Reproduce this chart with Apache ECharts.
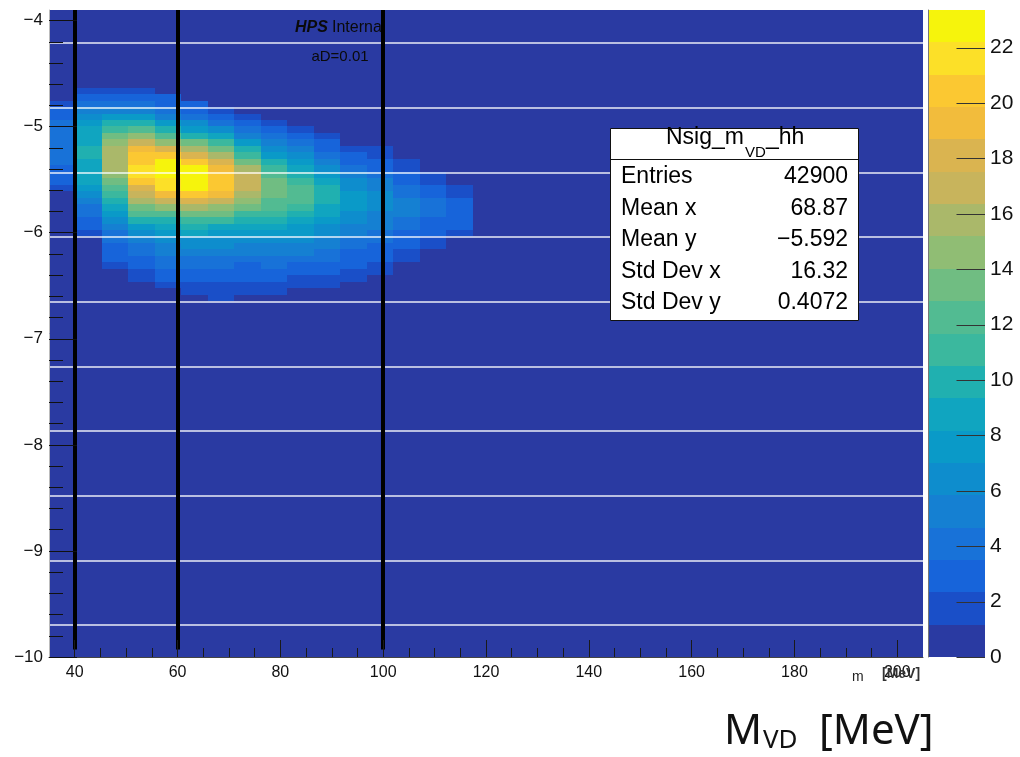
<!DOCTYPE html>
<html>
<head>
<meta charset="utf-8">
<script src="https://cdn.jsdelivr.net/npm/echarts@6/dist/echarts.min.js"></script>
<style>
  html, body { margin: 0; padding: 0; background: #fff; }
  #chart { width: 1020px; height: 757px; }
</style>
</head>
<body>
<div id="chart"></div>
<script>
// histogram binning
var xRange = [35, 205];
var xBinCount = 33;
var yRange = [-10, -3.9];
var yBinCount = 100;

// z contents per x bin (bin 0 .. 15), listed from the top y bin downwards
var colTopBin = [85, 87, 87, 87, 86, 85, 84, 83, 82, 81, 80, 78, 78, 76, 74, 72];
var zByColumn = [
  [2.0, 2.6, 3.2, 3.7, 4.1, 4.4, 4.6, 4.5, 4.2, 3.8, 3.4, 3.0, 2.6, 2.0],
  [2.0, 2.9, 4.0, 5.3, 6.5, 7.6, 8.4, 8.9, 9.2, 9.4, 9.4, 9.3, 9.1, 8.8, 8.4, 7.8, 6.2, 5.0, 4.4, 3.8, 3.3, 2.8, 2.3],
  [2.0, 3.0, 4.2, 5.6, 7.5, 9.5, 11.3, 13.0, 14.6, 15.6, 16.0, 15.8, 15.2, 14.2, 13.2, 12.0, 10.8, 9.6, 8.4, 7.2, 6.0, 5.0, 4.3, 3.8, 3.2, 2.8, 2.4, 1.9],
  [1.5, 2.5, 3.8, 5.5, 7.8, 10.0, 12.0, 14.2, 16.5, 18.8, 20.0, 21.0, 21.6, 21.4, 20.5, 18.5, 16.5, 15.2, 13.2, 11.8, 9.8, 7.5, 6.3, 5.2, 4.5, 3.7, 3.2, 2.8, 2.0, 1.6],
  [2.5, 3.2, 4.3, 5.5, 7.5, 9.8, 12.2, 14.8, 18.0, 20.5, 22.6, 23.2, 22.9, 21.8, 21.5, 19.2, 16.8, 14.5, 12.3, 10.0, 8.6, 7.4, 6.3, 5.4, 4.8, 4.0, 3.6, 3.0, 2.4, 1.8],
  [2.4, 3.3, 4.2, 6.0, 8.0, 10.5, 13.0, 15.8, 18.5, 20.8, 22.4, 23.3, 23.0, 22.2, 20.5, 18.2, 16.0, 13.8, 11.5, 9.6, 8.2, 7.0, 6.0, 5.2, 4.5, 3.8, 3.2, 2.6, 2.1, 1.6],
  [2.3, 3.2, 4.6, 6.3, 8.5, 10.8, 13.2, 15.5, 17.6, 19.2, 20.3, 20.6, 20.2, 19.0, 17.2, 15.0, 13.0, 11.0, 9.3, 8.0, 6.9, 6.0, 5.2, 4.5, 3.9, 3.3, 2.8, 2.3, 1.9, 1.5],
  [2.2, 3.0, 4.2, 5.8, 7.6, 9.5, 11.5, 13.5, 15.3, 16.6, 17.1, 16.9, 16.0, 14.6, 13.0, 11.4, 9.8, 8.5, 7.4, 6.4, 5.6, 4.8, 4.1, 3.5, 3.0, 2.5, 2.1, 1.6],
  [2.0, 2.9, 3.9, 5.2, 6.6, 8.0, 9.5, 11.0, 12.5, 13.4, 13.8, 13.5, 12.8, 11.8, 10.6, 9.4, 8.3, 7.3, 6.4, 5.6, 4.9, 4.2, 3.6, 3.1, 2.6, 2.1, 1.5],
  [2.0, 2.8, 3.8, 4.9, 6.1, 7.4, 8.7, 10.0, 11.1, 11.8, 12.0, 11.7, 11.0, 10.1, 9.1, 8.1, 7.2, 6.3, 5.5, 4.8, 4.1, 3.5, 2.9, 2.3, 1.7],
  [1.9, 2.6, 3.4, 4.4, 5.5, 6.6, 7.7, 8.7, 9.5, 9.9, 9.8, 9.3, 8.6, 7.8, 7.0, 6.2, 5.5, 4.8, 4.2, 3.6, 3.0, 2.5, 2.0, 1.5],
  [2.0, 2.7, 3.5, 4.4, 5.3, 6.2, 6.9, 7.4, 7.6, 7.4, 7.0, 6.4, 5.8, 5.2, 4.6, 4.0, 3.5, 3.0, 2.6, 2.2, 1.7],
  [1.7, 2.2, 2.8, 3.5, 4.2, 4.9, 5.5, 5.9, 6.1, 6.0, 5.7, 5.2, 4.7, 4.2, 3.7, 3.2, 2.8, 2.4, 2.0, 1.6],
  [1.6, 2.0, 2.6, 3.2, 3.8, 4.3, 4.7, 4.9, 4.8, 4.5, 4.0, 3.5, 3.0, 2.6, 2.1, 1.7],
  [1.7, 2.2, 2.8, 3.3, 3.7, 3.9, 3.8, 3.4, 2.9, 2.4, 2.0, 1.6],
  [1.7, 2.2, 2.6, 2.9, 3.0, 2.8, 2.4, 1.8]
];

// z axis (palette) : 20 contours up to zMax
var zMax = 23.36;
var palette = ['#2a3aa2', '#1a4fc8', '#1764da', '#1872d8', '#1580d2', '#0e8dcd', '#0a9ac8', '#10a5c0',
  '#20b0b0', '#3bb89e', '#52bb92', '#70bd82', '#90bd74', '#aab86a', '#c8b45c', '#dab450',
  '#f2bc3c', '#fbc832', '#fce028', '#f6f40c'];
var zTicks = [0, 2, 4, 6, 8, 10, 12, 14, 16, 18, 20, 22];

var xMajorTicks = [40, 60, 80, 100, 120, 140, 160, 180, 200];
var yMajorTicks = [-10, -9, -8, -7, -6, -5, -4];

// overlay lines
var cutMasses = [40, 60, 100];
var cutLineY = [-9.93, -3.9];
var whiteLinesY = [-4.21, -4.82, -5.43, -6.04, -6.65, -7.26, -7.87, -8.48, -9.09, -9.70];

// stats box
var statsTitle = ['Nsig_m', 'VD', '_hh'];
var statsNames = ['Entries', 'Mean x', 'Mean y', 'Std Dev x', 'Std Dev y'];
var statsValues = ['42900', '68.87', '\u22125.592', '16.32', '0.4072'];

var xBinW = (xRange[1] - xRange[0]) / xBinCount;
var yBinW = (yRange[1] - yRange[0]) / yBinCount;

var heatData = [];
zByColumn.forEach(function (col, i) {
  col.forEach(function (z, j) {
    var row = colTopBin[i] - j;
    heatData.push([xRange[0] + i * xBinW, yRange[0] + row * yBinW, z]);
  });
});

var zStep = zMax / palette.length;
var pieces = [];
var bandData = [];
palette.forEach(function (c, i) {
  pieces.push({ gte: i * zStep, lt: (i + 1) * zStep, color: c });
  bandData.push([i * zStep, (i + 1) * zStep, i]);
});

var xMinorTicks = [];
for (var t = 40; t <= 200; t += 5) if (t % 20 !== 0) xMinorTicks.push(t);
var yMinorTicks = [];
for (var k = -49; k <= -20; k++) if (k % 5 !== 0) yMinorTicks.push(k / 5);

var FONT = "'Liberation Sans', Arial, Helvetica, sans-serif";
function minus(v) { return v < 0 ? '\u2212' + Math.abs(v) : String(v); }

var chart = echarts.init(document.getElementById('chart'));

var graphics = [
  { type: 'text', x: 295, y: 28, z: 1, style: { text: 'HPS', font: "italic bold 16px " + FONT, fill: '#0a0a0a', verticalAlign: 'middle' } },
  { type: 'text', x: 332, y: 28, z: 1, style: { text: 'Internal', font: "16px " + FONT, fill: '#0a0a0a', verticalAlign: 'middle' } },
  { type: 'text', x: 340, y: 57, z: 1, style: { text: 'aD=0.01', font: "15px " + FONT, fill: '#0a0a0a', align: 'center', verticalAlign: 'middle' } },
  { type: 'rect', z: 100, shape: { x: 610.5, y: 128.5, width: 248, height: 192 }, style: { fill: '#fff', stroke: '#111', lineWidth: 1 } },
  { type: 'line', z: 101, shape: { x1: 610.5, y1: 159.5, x2: 858.5, y2: 159.5 }, style: { stroke: '#111', lineWidth: 1 } },
  { type: 'text', x: 666, y: 138, z: 102, style: { text: statsTitle[0], font: "23px " + FONT, fill: '#000', verticalAlign: 'middle' } },
  { type: 'text', x: 745, y: 153, z: 102, style: { text: statsTitle[1], font: "15px " + FONT, fill: '#000', verticalAlign: 'middle' } },
  { type: 'text', x: 766, y: 138, z: 102, style: { text: statsTitle[2], font: "23px " + FONT, fill: '#000', verticalAlign: 'middle' } },
  // small ROOT axis title, cut at the bottom edge of the original picture
  { type: 'text', x: 852, y: 670, z: 40, style: { text: 'm', font: "14px " + FONT, fill: '#222', verticalAlign: 'top' } },
  { type: 'text', x: 882, y: 667, z: 40, style: { text: '[MeV]', font: "bold 14px " + FONT, fill: '#333', verticalAlign: 'top' } },
  { type: 'rect', z: 50, shape: { x: 840, y: 681, width: 90, height: 20 }, style: { fill: '#fff' } },
  // big axis label
  { type: 'text', x: 724, y: 732, z: 60, style: { text: 'M', font: "42px 'Noto Sans', sans-serif", fill: '#111', verticalAlign: 'middle' } },
  { type: 'text', x: 763, y: 741, z: 60, style: { text: 'VD', font: "26px 'Noto Sans', sans-serif", fill: '#111', verticalAlign: 'middle' } },
  { type: 'text', x: 819, y: 732, z: 60, style: { text: '[MeV]', font: "42px 'Noto Sans', sans-serif", fill: '#111', verticalAlign: 'middle' } }
];
statsNames.forEach(function (n, i) {
  var y = 177 + i * 31.5;
  graphics.push({ type: 'text', x: 621, y: y, z: 102, style: { text: n, font: "23px " + FONT, fill: '#000', verticalAlign: 'middle' } });
  graphics.push({ type: 'text', x: 848, y: y, z: 102, style: { text: statsValues[i], font: "23px " + FONT, fill: '#000', align: 'right', verticalAlign: 'middle' } });
});

var option = {
  animation: false,
  backgroundColor: '#ffffff',
  grid: [
    { left: 49, top: 10, width: 874, height: 647, show: true, backgroundColor: palette[0], borderWidth: 0 },
    { left: 928, top: 10, width: 57, height: 647, show: false }
  ],
  visualMap: {
    type: 'piecewise',
    show: false,
    seriesIndex: 0,
    dimension: 2,
    pieces: pieces
  },
  xAxis: [
    {
      gridIndex: 0, type: 'value', position: 'bottom', min: xRange[0], max: xRange[1], z: 10,
      axisLine: { show: true, onZero: false, lineStyle: { color: '#444', width: 1 } },
      splitLine: { show: false },
      axisTick: { inside: true, length: 17, customValues: xMajorTicks, lineStyle: { color: '#1a1a1a' } },
      axisLabel: { customValues: xMajorTicks, margin: 8, fontSize: 16, color: '#111', fontFamily: FONT }
    },
    {
      gridIndex: 0, type: 'value', position: 'bottom', min: xRange[0], max: xRange[1], z: 10,
      axisLine: { show: false, onZero: false },
      splitLine: { show: false },
      axisTick: { inside: true, length: 9, customValues: xMinorTicks, lineStyle: { color: '#1a1a1a' } },
      axisLabel: { show: false }
    },
    { gridIndex: 1, type: 'value', min: 0, max: 1, show: false }
  ],
  yAxis: [
    {
      gridIndex: 0, type: 'value', position: 'left', min: yRange[0], max: yRange[1], z: 10,
      axisLine: { show: true, onZero: false, lineStyle: { color: '#bbb', width: 1 } },
      splitLine: { show: false },
      axisTick: { inside: true, length: 28, customValues: yMajorTicks, lineStyle: { color: '#111' } },
      axisLabel: { customValues: yMajorTicks, margin: 6, fontSize: 17, color: '#111', fontFamily: FONT, formatter: minus }
    },
    {
      gridIndex: 0, type: 'value', position: 'left', min: yRange[0], max: yRange[1], z: 10,
      axisLine: { show: false, onZero: false },
      splitLine: { show: false },
      axisTick: { inside: true, length: 14, customValues: yMinorTicks, lineStyle: { color: '#111' } },
      axisLabel: { show: false }
    },
    {
      gridIndex: 1, type: 'value', position: 'right', min: 0, max: zMax, z: 10,
      axisLine: { show: true, lineStyle: { color: '#777', width: 1 } },
      splitLine: { show: false },
      axisTick: { show: false },
      axisLabel: { customValues: zTicks, margin: 5, fontSize: 21, color: '#111', fontFamily: FONT }
    }
  ],
  series: [
    {
      type: 'custom',
      xAxisIndex: 0, yAxisIndex: 0,
      data: heatData,
      encode: { x: 0, y: 1 },
      clip: true,
      z: 2,
      renderItem: function (params, api) {
        var x = api.value(0), y = api.value(1);
        var p0 = api.coord([x, y + yBinW]);
        var p1 = api.coord([x + xBinW, y]);
        var x0 = Math.round(p0[0]), y0 = Math.round(p0[1]);
        var x1 = Math.round(p1[0]), y1 = Math.round(p1[1]);
        return {
          type: 'rect',
          shape: { x: x0, y: y0, width: x1 - x0, height: y1 - y0 },
          style: { fill: api.visual('color') }
        };
      }
    },
    {
      type: 'line', xAxisIndex: 0, yAxisIndex: 0, data: [], z: 3,
      markLine: {
        silent: true, symbol: ['none', 'none'], label: { show: false },
        lineStyle: { color: 'rgba(255,255,255,0.9)', width: 1.6, type: 'solid' },
        data: whiteLinesY.map(function (v) { return { yAxis: v }; })
      }
    },
    {
      type: 'line', xAxisIndex: 0, yAxisIndex: 0, data: [], z: 5,
      markLine: {
        silent: true, symbol: ['none', 'none'], label: { show: false },
        lineStyle: { color: '#000', width: 4, type: 'solid' },
        data: cutMasses.map(function (m) {
          return [{ coord: [m, cutLineY[0]] }, { coord: [m, cutLineY[1]] }];
        })
      }
    },
    {
      // colour bar bands
      type: 'custom',
      xAxisIndex: 2, yAxisIndex: 2,
      data: bandData,
      z: 2,
      renderItem: function (params, api) {
        var p0 = api.coord([0, api.value(1)]);
        var p1 = api.coord([1, api.value(0)]);
        var y0 = Math.round(p0[1]), y1 = Math.round(p1[1]);
        return {
          type: 'rect',
          shape: { x: p0[0], y: y0, width: p1[0] - p0[0], height: y1 - y0 },
          style: { fill: palette[api.value(2)] }
        };
      }
    },
    {
      // colour bar ticks, from the right edge inwards
      type: 'custom',
      xAxisIndex: 2, yAxisIndex: 2,
      data: zTicks.map(function (v) { return [1, v]; }),
      z: 4,
      renderItem: function (params, api) {
        var p1 = api.coord([1, api.value(1)]);
        var p0 = api.coord([0.5, api.value(1)]);
        var y = Math.round(p1[1]) + 0.5;
        return {
          type: 'line',
          shape: { x1: p0[0], y1: y, x2: p1[0], y2: y },
          style: { stroke: '#333', lineWidth: 1 }
        };
      }
    }
  ],
  graphic: graphics
};

chart.setOption(option);
</script>
</body>
</html>
